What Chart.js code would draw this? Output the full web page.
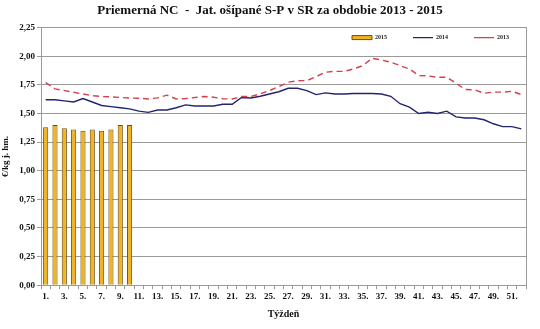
<!DOCTYPE html>
<html>
<head>
<meta charset="utf-8">
<script src="https://cdn.jsdelivr.net/npm/chart.js@4/dist/chart.umd.min.js"></script>
<style>
  html, body { margin: 0; padding: 0; background: #fff; }
  #wrap { width: 540px; height: 329px; }
</style>
</head>
<body>
<div id="wrap"><canvas id="cenyChart"></canvas></div>
<script>
// týždne 1.–52.
const tyzdne = ['1.', '2.', '3.', '4.', '5.', '6.', '7.', '8.', '9.', '10.',
    '11.', '12.', '13.', '14.', '15.', '16.', '17.', '18.', '19.', '20.',
    '21.', '22.', '23.', '24.', '25.', '26.', '27.', '28.', '29.', '30.',
    '31.', '32.', '33.', '34.', '35.', '36.', '37.', '38.', '39.', '40.',
    '41.', '42.', '43.', '44.', '45.', '46.', '47.', '48.', '49.', '50.',
    '51.', '52.'];

// priemerné ceny €/kg j. hm.
const ceny2015 = [1.38, 1.40, 1.37, 1.36, 1.35, 1.36, 1.35, 1.36, 1.40, 1.40];

const ceny2014 = [1.62, 1.62, 1.61, 1.60, 1.63, 1.60, 1.57, 1.56, 1.55, 1.54,
    1.52, 1.51, 1.53, 1.53, 1.55, 1.575, 1.565, 1.565, 1.565, 1.58,
    1.58, 1.64, 1.635, 1.65, 1.67, 1.69, 1.72, 1.72, 1.70, 1.665,
    1.68, 1.67, 1.67, 1.675, 1.675, 1.675, 1.67, 1.65, 1.585, 1.555,
    1.50, 1.51, 1.50, 1.52, 1.47, 1.46, 1.46, 1.445, 1.41, 1.385,
    1.385, 1.365];

const ceny2013 = [1.77, 1.715, 1.70, 1.685, 1.67, 1.655, 1.648, 1.645, 1.64, 1.635,
    1.633, 1.627, 1.636, 1.66, 1.627, 1.63, 1.64, 1.648, 1.642, 1.628,
    1.627, 1.648, 1.648, 1.671, 1.70, 1.735, 1.773, 1.785, 1.787, 1.822,
    1.86, 1.868, 1.868, 1.889, 1.918, 1.982, 1.967, 1.947, 1.918, 1.889,
    1.831, 1.828, 1.816, 1.816, 1.764, 1.709, 1.706, 1.677, 1.686, 1.686,
    1.694, 1.665];

const SERIF = '"Liberation Serif", "Times New Roman", serif';
const SIVA = '#9a9a9a';

// legenda nezaberá miesto v rozložení, kreslí sa vnútri plochy grafu vpravo hore
const posunLegendy = {
    id: 'posunLegendy',
    afterInit(chart) {
        const lg = chart.legend;
        if (!lg) return;
        const povodnyFit = lg.fit;
        lg.fit = function () {
            povodnyFit.call(this);
            this._vyska = this.height;
            this.height = 0;
        };
    },
    afterLayout(chart) {
        const lg = chart.legend;
        if (!lg) return;
        lg.top = chart.chartArea.top - 19;
        lg.bottom = lg.top + (lg._vyska || 40);
        lg.height = lg.bottom - lg.top;
        lg.right -= 5;
    }
};

new Chart(document.getElementById('cenyChart').getContext('2d'), {
    type: 'bar',
    data: {
        labels: tyzdne,
        datasets: [{
            type: 'bar',
            label: '2015',
            data: ceny2015,
            backgroundColor: '#f0b323',
            borderColor: '#6b4e0a',
            borderWidth: 1,
            barPercentage: 0.55,
            categoryPercentage: 1,
            order: 3
        }, {
            type: 'line',
            label: '2014',
            data: ceny2014,
            borderColor: '#24246e',
            backgroundColor: '#24246e',
            borderWidth: 1.4,
            pointRadius: 0,
            tension: 0,
            fill: false,
            order: 2
        }, {
            type: 'line',
            label: '2013',
            data: ceny2013,
            borderColor: '#d6404e',
            backgroundColor: '#d6404e',
            borderWidth: 1.4,
            borderDash: [6, 4],
            pointRadius: 0,
            tension: 0,
            fill: false,
            order: 1
        }]
    },
    plugins: [posunLegendy],
    options: {
        responsive: true,
        maintainAspectRatio: false,
        animation: false,
        layout: { padding: { left: 0, right: 0, top: 0, bottom: 9 } },
        plugins: {
            title: {
                display: true,
                text: 'Priemerná NC  -  Jat. ošípané S-P v SR za obdobie 2013 - 2015',
                color: '#111',
                font: { family: SERIF, size: 13, weight: 'bold' },
                padding: { top: 3, bottom: 9 }
            },
            legend: {
                position: 'top',
                align: 'end',
                labels: {
                    usePointStyle: true,
                    pointStyleWidth: 20,
                    boxHeight: 4,
                    padding: 26,
                    color: '#222',
                    font: { family: SERIF, size: 6, weight: 'bold' },
                    sort: (a, b) => a.datasetIndex - b.datasetIndex,
                    generateLabels(chart) {
                        const items = Chart.defaults.plugins.legend.labels.generateLabels(chart);
                        items.forEach(it => {
                            const ds = chart.data.datasets[it.datasetIndex];
                            it.pointStyle = ds.type === 'line' ? 'line' : 'rect';
                            it.lineWidth = ds.type === 'line' ? 1.4 : 1;
                        });
                        return items;
                    }
                }
            },
            tooltip: { enabled: false }
        },
        scales: {
            x: {
                offset: true,
                title: {
                    display: true,
                    text: 'Týždeň',
                    color: '#111',
                    font: { family: SERIF, size: 10, weight: 'bold' },
                    padding: { top: 4, bottom: 0 }
                },
                grid: {
                    offset: true,
                    drawOnChartArea: false,
                    drawTicks: true,
                    tickLength: 4,
                    color: SIVA
                },
                border: { display: true, color: SIVA },
                ticks: {
                    autoSkip: false,
                    maxRotation: 0,
                    padding: 2,
                    color: '#111',
                    font: { family: SERIF, size: 9, weight: 'bold' },
                    callback(val, i) {
                        return i % 2 === 0 ? this.getLabelForValue(val) : '';
                    }
                }
            },
            y: {
                min: 0,
                max: 2.25,
                afterFit(scale) { scale.width = 41; },
                title: {
                    display: true,
                    text: '€/kg j. hm.',
                    color: '#111',
                    font: { family: SERIF, size: 9, weight: 'bold' },
                    padding: 0
                },
                grid: {
                    color: SIVA,
                    tickLength: 4
                },
                border: { display: true, color: SIVA },
                ticks: {
                    stepSize: 0.25,
                    padding: 2,
                    color: '#111',
                    font: { family: SERIF, size: 9, weight: 'bold' },
                    callback: v => v.toFixed(2).replace('.', ',')
                }
            },
            y2: {
                position: 'right',
                min: 0,
                max: 2.25,
                afterFit(scale) { scale.width = 14; },
                grid: { display: false },
                border: { display: true, color: SIVA },
                ticks: { display: false }
            }
        }
    }
});
</script>
</body>
</html>
